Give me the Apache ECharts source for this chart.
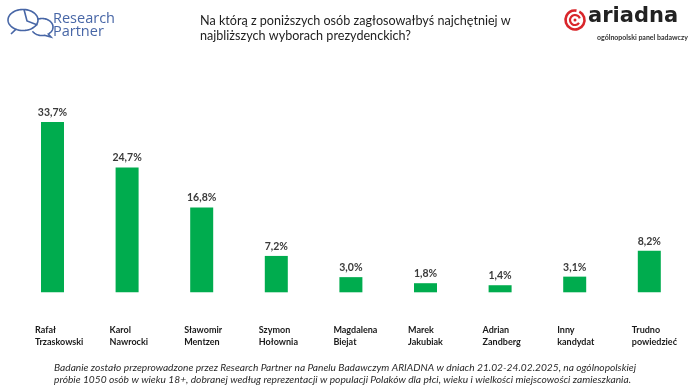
<!DOCTYPE html>
<html>
<head>
<meta charset="utf-8">
<script src="https://cdn.jsdelivr.net/npm/echarts@6/dist/echarts.min.js"></script>
<style>
html,body{margin:0;padding:0;background:#fff;}
#chart{width:700px;height:391px;}
</style>
</head>
<body>
<div id="chart"></div>
<script>
var categories = ["Rafał\nTrzaskowski","Karol\nNawrocki","Sławomir\nMentzen","Szymon\nHołownia","Magdalena\nBiejat","Marek\nJakubiak","Adrian\nZandberg","Inny\nkandydat","Trudno\npowiedzieć"];
var values = [33.7, 24.7, 16.8, 7.2, 3.0, 1.8, 1.4, 3.1, 8.2];
var titleText = "Na którą z poniższych osób zagłosowałbyś najchętniej w\nnajbliższych wyborach prezydenckich?";
var footnoteLines = [
  "Badanie zostało przeprowadzone przez Research Partner na Panelu Badawczym ARIADNA w dniach 21.02-24.02.2025, na ogólnopolskiej",
  "próbie 1050 osób w wieku 18+, dobranej według reprezentacji w populacji Polaków dla płci, wieku i wielkości miejscowości zamieszkania."
];

function ellipseArc(cx, cy, rx, ry, a0, a1, n) {
  var pts = [];
  for (var i = 0; i <= n; i++) {
    var a = (a0 + (a1 - a0) * i / n) * Math.PI / 180;
    pts.push([cx + rx * Math.cos(a), cy + ry * Math.sin(a)]);
  }
  return pts;
}

var chart = echarts.init(document.getElementById('chart'), null, {renderer:'canvas'});
var blue = '#4766a6';
var red = '#d9262b';

var b1 = [[11, 34]].concat(ellipseArc(23, 20, 15, 10.5, 118, 478, 60)).concat([[11, 34]]);
var b2 = ellipseArc(42, 27, 11, 8.5, -115, 55, 40).concat([[51, 37], [44.5, 35.3]]).concat(ellipseArc(42, 27, 11, 8.5, 77, 150, 12));

var option = {
  backgroundColor:'#ffffff',
  animation:false,
  title:{
    text:titleText,
    left:195, top:8,
    textStyle:{fontFamily:'Lato', fontSize:12.6, fontWeight:'normal', color:'#1e1e1e', lineHeight:15}
  },
  grid:{left:15.2, right:13.4, top:90.2, bottom:98.7, containLabel:false},
  xAxis:{
    type:'category', data:categories,
    axisLine:{show:false}, axisTick:{show:false},
    axisLabel:{
      interval:0, align:'left', verticalAlign:'top', margin:32,
      padding:[0,0,0,-17.5],
      fontFamily:'Lato', fontSize:9, fontWeight:'bold', color:'#1a1a1a', lineHeight:11.7
    }
  },
  yAxis:{type:'value', min:0, max:40, show:false, splitLine:{show:false}},
  series:[{
    type:'bar', data:values, barWidth:23,
    itemStyle:{color:'#00ac4e'},
    label:{
      show:true, position:'top', distance:4,
      fontFamily:'Lato', fontSize:10.5, fontWeight:'bold', color:'#3a3a3a',
      formatter:function(p){return p.value.toFixed(1).replace('.',',')+'%';}
    }
  }],
  graphic:[
    {type:'polyline', shape:{points:b1}, style:{fill:'none', stroke:blue, lineWidth:1.6}},
    {type:'polyline', shape:{points:[[24,9.5],[27,21],[37.5,25]]}, style:{fill:'none', stroke:blue, lineWidth:1.6}},
    {type:'polyline', shape:{points:b2}, style:{fill:'none', stroke:blue, lineWidth:1.6}},
    {type:'text', left:53, top:11, style:{text:'Research', font:'14.5px "Open Sans"', fill:blue}},
    {type:'text', left:53, top:24, style:{text:'Partner', font:'14.5px "Open Sans"', fill:blue}},
    {type:'arc', shape:{cx:575, cy:20, r:9.5, startAngle:-Math.PI*0.35, endAngle:Math.PI*1.55}, style:{fill:'none', stroke:red, lineWidth:2.6}},
    {type:'arc', shape:{cx:575, cy:20, r:5, startAngle:Math.PI*0.2, endAngle:Math.PI*1.9}, style:{fill:'none', stroke:red, lineWidth:2.2}},
    {type:'circle', shape:{cx:575, cy:20, r:1.5}, style:{fill:red}},
    {type:'text', left:588, top:6, style:{text:'ariadna', font:'bold 21px "DejaVu Sans"', fill:'#222'}},
    {type:'text', left:597, top:34, style:{text:'ogólnopolski panel badawczy', font:'bold 7px Lato', fill:'#333'}},
    {type:'text', left:54, top:363, style:{text:footnoteLines[0], font:'italic 10.2px Lato', fill:'#2a2a2a'}},
    {type:'text', left:54, top:375, style:{text:footnoteLines[1], font:'italic 10.2px Lato', fill:'#2a2a2a'}}
  ]
};
chart.setOption(option);
</script>
</body>
</html>
